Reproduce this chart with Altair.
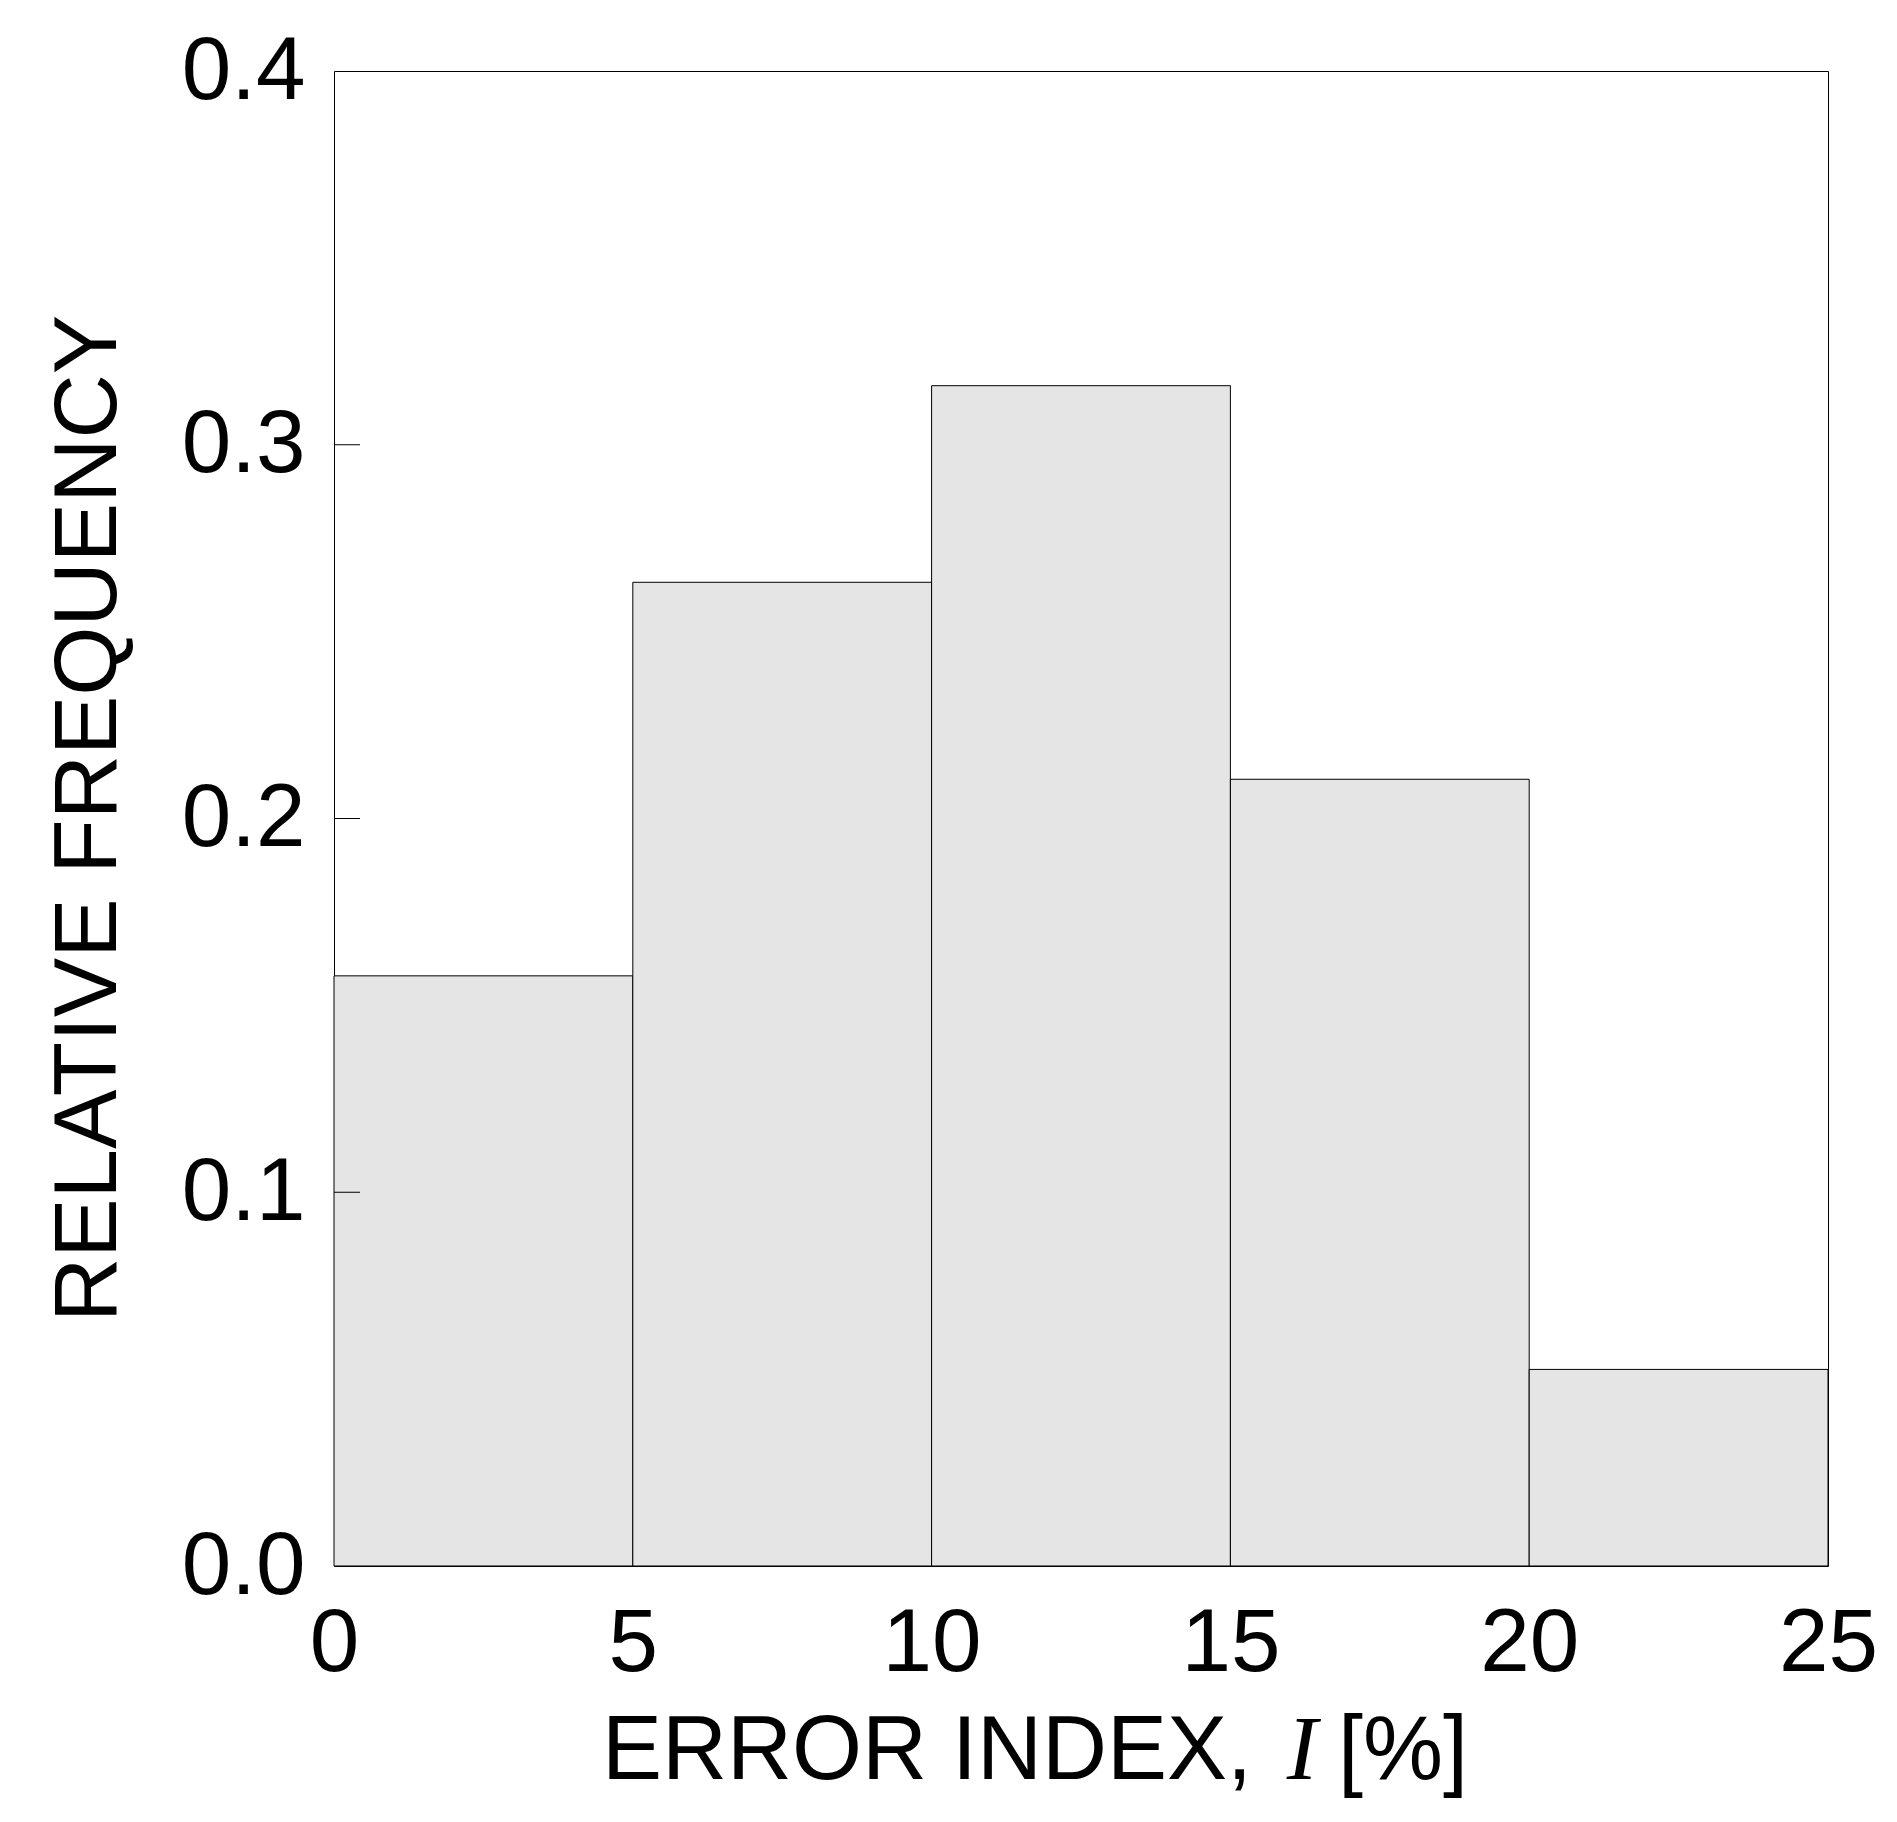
import altair as alt
import pandas as pd

bin_start = [0, 5, 10, 15, 20]
bin_end = [5, 10, 15, 20, 25]
rel_freq = [0.1579, 0.2632, 0.3158, 0.2105, 0.0526]
y_ticks = [0.0, 0.1, 0.2, 0.3, 0.4]
x_ticks = [0, 5, 10, 15, 20, 25]
inner_ticks = [0.1, 0.2, 0.3]

bars_df = pd.DataFrame({"start": bin_start, "end": bin_end, "freq": rel_freq})
ticks_df = pd.DataFrame({"t": inner_ticks})

FONT = "Liberation Sans"

x_scale = alt.Scale(domain=[0, 25], nice=False, zero=False)
y_scale = alt.Scale(domain=[0, 0.4], nice=False)

bars = alt.Chart(bars_df).mark_rect(fill="#e5e5e5", stroke="black", strokeWidth=1).encode(
    x=alt.X("start:Q", scale=x_scale, axis=alt.Axis(
        values=x_ticks, title=None, grid=False, domain=False, ticks=False, tickSize=0,
        labelFont=FONT, labelFontSize=89, labelColor="black", labelPadding=34,
        labelFlush=False, format="d")),
    x2="end:Q",
    y=alt.Y("freq:Q", scale=y_scale, axis=alt.Axis(
        values=y_ticks, title=None, grid=False, domain=False, ticks=False, tickSize=0,
        labelFont=FONT, labelFontSize=89, labelColor="black", labelPadding=29,
        labelFlush=False, format=".1f")),
    y2=alt.datum(0),
)

ticks = alt.Chart(ticks_df).mark_rule(color="black", strokeWidth=1).encode(
    y=alt.Y("t:Q", scale=y_scale),
    x=alt.value(0),
    x2=alt.value(26),
)

one = pd.DataFrame({"a": [0]})
t1 = alt.Chart(one).mark_text(text="ERROR INDEX,", font=FONT, fontSize=90, align="right",
                              baseline="alphabetic", color="black").encode(
    x=alt.value(918), y=alt.value(1708))
t2 = alt.Chart(one).mark_text(text="I", font="Liberation Serif", fontStyle="italic", fontSize=92,
                              align="center", baseline="alphabetic", color="black").encode(
    x=alt.value(968), y=alt.value(1708))
t3 = alt.Chart(one).mark_text(text="[%]", font=FONT, fontSize=90, align="left",
                              baseline="alphabetic", color="black").encode(
    x=alt.value(1004), y=alt.value(1708))
ytitle = alt.Chart(one).mark_text(text="RELATIVE FREQUENCY", font=FONT, fontSize=89, align="center",
                                  baseline="alphabetic", angle=270, color="black").encode(
    x=alt.value(-218), y=alt.value(747.5))

chart = alt.layer(bars, ticks, t1, t2, t3, ytitle).properties(
    width=1494, height=1495,
    background="white",
    autosize=alt.AutoSizeParams(type="none"),
    padding={"left": 326, "top": 63, "right": 50, "bottom": 240},
).configure_view(stroke="black", strokeWidth=1)

chart.save("out.html", embed_options={"renderer": "svg", "actions": False})
